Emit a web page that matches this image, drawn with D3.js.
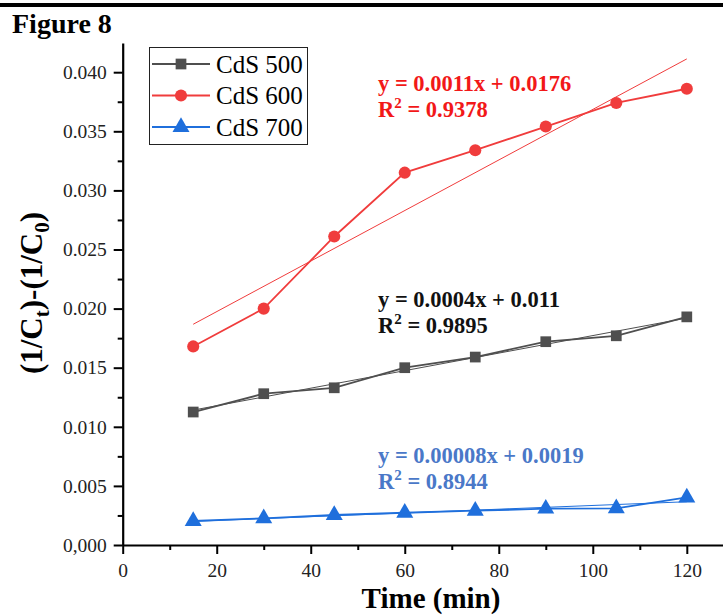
<!DOCTYPE html>
<html>
<head>
<meta charset="utf-8">
<script src="https://cdn.jsdelivr.net/npm/d3@7"></script>
<style>
	body { margin: 0; background: #fff; }
	svg text { font-family: "Liberation Serif", "Times New Roman", serif; }
</style>
</head>
<body>
<div id="chart"></div>
<script>

var times = [15, 30, 45, 60, 75, 90, 105, 120];
var cds500 = [0.01125, 0.0128, 0.0133, 0.0150, 0.0159, 0.0172, 0.0177, 0.0193];
var cds600 = [0.0168, 0.0200, 0.0261, 0.0315, 0.0334, 0.0354, 0.0374, 0.0386];
var cds700 = [0.00203, 0.00226, 0.00254, 0.00273, 0.00290, 0.00307, 0.00310, 0.00402];

var seriesNames = ["CdS 500", "CdS 600", "CdS 700"];
var xTicks = [0, 20, 40, 60, 80, 100, 120];
var yTicks = [0, 0.005, 0.010, 0.015, 0.020, 0.025, 0.030, 0.035, 0.040];
var equations = [
	["y = 0.0004x + 0.011", "0.9895"],
	["y = 0.0011x + 0.0176", "0.9378"],
	["y = 0.00008x + 0.0019", "0.8944"]
];

var width = 723, height = 616,
	margin = {top: 43, right: 0, bottom: 71, left: 122.7};

var svg = d3.select("#chart").append("svg")
	.attr("width", width)
	.attr("height", height);

// black rule at the top of the page
svg.append("rect").attr("x", 0).attr("y", 3).attr("width", width).attr("height", 4).attr("fill", "#000");

svg.append("text")
	.attr("x", 12).attr("y", 33)
	.attr("font-size", 28).attr("font-weight", "bold")
	.text("Figure 8");

var x = d3.scaleLinear().domain([0, 127.7]).range([margin.left, width - margin.right]);
var y = d3.scaleLinear().domain([0, 0.04247]).range([height - margin.bottom, margin.top]);

var colors = ["#4f4f4f", "#f03c3c", "#1f6fdc"];
var eqColors = ["#111111", "#f21818", "#4a78c8"];
var data = [cds500, cds600, cds700];

// axes
var xAxis = svg.append("g")
	.attr("transform", "translate(0," + y(0) + ")")
	.call(d3.axisBottom(x).tickValues(xTicks).tickSize(9).tickSizeOuter(0).tickFormat(d3.format("d")));

xAxis.selectAll(".tick text").attr("dy", "1.05em");

svg.append("g")
	.attr("transform", "translate(0," + y(0) + ")")
	.call(d3.axisBottom(x).tickValues(d3.range(10, 130, 20)).tickSize(5).tickSizeOuter(0).tickFormat(""))
	.select(".domain").remove();

var yAxis = svg.append("g")
	.attr("transform", "translate(" + x(0) + ",0)")
	.call(d3.axisLeft(y).tickValues(yTicks).tickSize(9).tickSizeOuter(0)
		.tickFormat(function(d) { return d === 0 ? "0,000" : d3.format(".3f")(d); }));

yAxis.selectAll(".tick text").attr("dx", "-0.2em");

svg.append("g")
	.attr("transform", "translate(" + x(0) + ",0)")
	.call(d3.axisLeft(y).tickValues(d3.range(0.0025, 0.042, 0.005)).tickSize(5).tickFormat(""))
	.select(".domain").remove();

svg.selectAll(".domain").attr("stroke", "#000").attr("stroke-width", 2.2);
svg.selectAll(".tick line").attr("stroke", "#000").attr("stroke-width", 2);
svg.selectAll(".tick text").attr("font-size", 19.5).attr("fill", "#222")
	.style("font-family", "'Liberation Serif', serif");

// axis titles
svg.append("text")
	.attr("x", 431).attr("y", 608)
	.attr("text-anchor", "middle")
	.attr("font-size", 29).attr("font-weight", "bold")
	.text("Time (min)");

var yLabel = svg.append("text")
	.attr("transform", "translate(42,293) rotate(-90)")
	.attr("text-anchor", "middle")
	.attr("font-size", 31).attr("font-weight", "bold");
yLabel.append("tspan").text("(1/C");
yLabel.append("tspan").attr("font-size", 21).attr("dy", 7).text("t");
yLabel.append("tspan").attr("dy", -7).text(")-(1/C");
yLabel.append("tspan").attr("font-size", 21).attr("dy", 7).text("0");
yLabel.append("tspan").attr("dy", -7).text(")");

// least-squares trend line
function fit(vals) {
	var mx = d3.mean(times), my = d3.mean(vals);
	var sxy = d3.sum(times, function(t, i) { return (t - mx) * (vals[i] - my); });
	var sxx = d3.sum(times, function(t) { return (t - mx) * (t - mx); });
	var b = sxy / sxx;
	return [[times[0], my + b * (times[0] - mx)], [times[times.length - 1], my + b * (times[times.length - 1] - mx)]];
}

var line = d3.line()
	.x(function(d) { return x(d[0]); })
	.y(function(d) { return y(d[1]); });

var symbols = [d3.symbolSquare, d3.symbolCircle, d3.symbolTriangle];
var symSizes = [115, 115, 125];

data.forEach(function(vals, k) {
	var pts = times.map(function(t, i) { return [t, vals[i]]; });

	svg.append("path")
		.attr("d", line(fit(vals)))
		.attr("fill", "none")
		.attr("stroke", colors[k])
		.attr("stroke-width", 1);

	svg.append("path")
		.attr("d", line(pts))
		.attr("fill", "none")
		.attr("stroke", colors[k])
		.attr("stroke-width", 1.8);

	svg.append("g").selectAll("path")
		.data(pts)
		.enter().append("path")
			.attr("transform", function(d) { return "translate(" + x(d[0]) + "," + y(d[1]) + ")"; })
			.attr("d", d3.symbol().type(symbols[k]).size(symSizes[k]))
			.attr("fill", colors[k]);
});

// equation labels
var eqPos = [[378, 307], [378, 91], [378, 463]];
equations.forEach(function(eq, k) {
	var g = svg.append("g").attr("fill", eqColors[k]).attr("font-weight", "bold").attr("font-size", 22.5);
	g.append("text").attr("x", eqPos[k][0]).attr("y", eqPos[k][1]).text(eq[0]);
	var r = g.append("text").attr("x", eqPos[k][0]).attr("y", eqPos[k][1] + 25.5);
	r.append("tspan").text("R");
	r.append("tspan").attr("font-size", 15).attr("dy", -9).text("2");
	r.append("tspan").attr("dy", 9).text(" = " + eq[1]);
});

// legend
var legend = svg.append("g");
legend.append("rect")
	.attr("x", 149.5).attr("y", 47.5).attr("width", 158).attr("height", 97)
	.attr("fill", "#fff").attr("stroke", "#222").attr("stroke-width", 1);

var legendItem = legend.selectAll(".legend-item")
	.data(seriesNames)
	.enter().append("g")
		.attr("class", "legend-item")
		.attr("transform", function(d, i) { return "translate(0," + (64 + i * 31.5) + ")"; });

legendItem.append("line")
	.attr("x1", 152).attr("x2", 210)
	.attr("stroke", function(d, i) { return colors[i]; })
	.attr("stroke-width", 1.8);

legendItem.append("path")
	.attr("transform", "translate(181,0)")
	.attr("d", function(d, i) { return d3.symbol().type(symbols[i]).size(symSizes[i])(); })
	.attr("fill", function(d, i) { return colors[i]; });

legendItem.append("text")
	.attr("x", 216).attr("dy", "0.34em")
	.attr("font-size", 25)
	.style("font-family", "'Liberation Serif', serif")
	.text(function(d) { return d; });

</script>
</body>
</html>
